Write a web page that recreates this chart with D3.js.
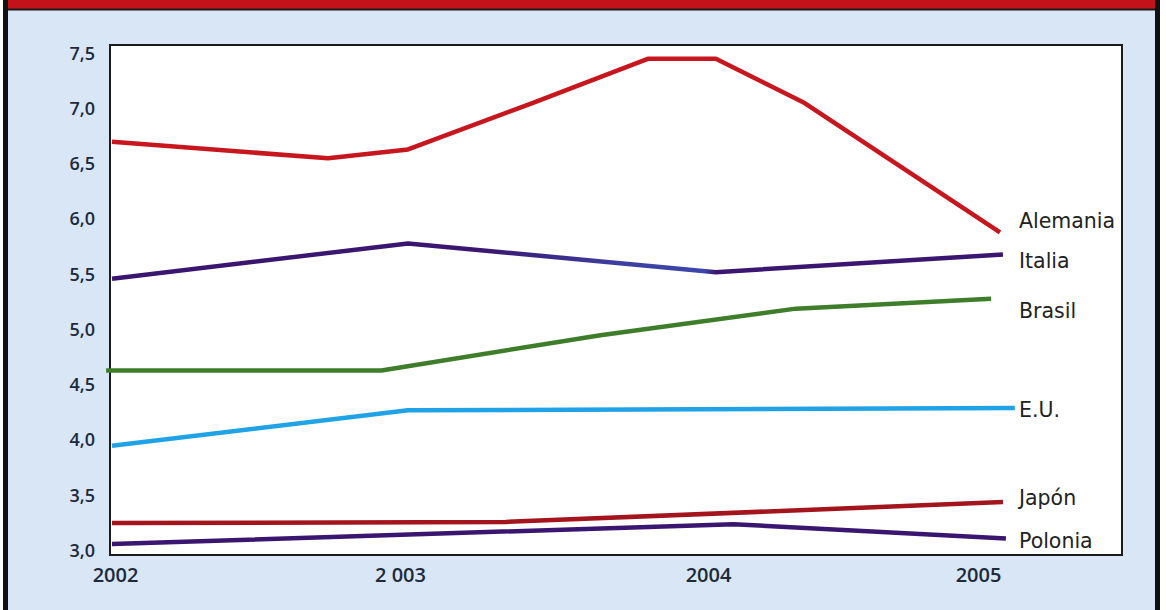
<!DOCTYPE html>
<html>
<head>
<meta charset="utf-8">
<script src="https://cdn.jsdelivr.net/npm/d3@7"></script>
<style>
  html, body { margin: 0; padding: 0; background: #ffffff; }
  svg { display: block; }
</style>
</head>
<body>
<svg id="chart" width="1166" height="610"></svg>
<script>
// ---- data ----
const years = [2002, 2003, 2004, 2005];
const yearLabels = ["2002", "2 003", "2004", "2005"];
const yTicks = [3.0, 3.5, 4.0, 4.5, 5.0, 5.5, 6.0, 6.5, 7.0, 7.5];
const countries = ["Alemania", "Italia", "Brasil", "E.U.", "Japón", "Polonia"];

const alemania = [[2002.0, 6.70], [2002.73, 6.55], [2003.0, 6.63], [2003.42, 7.05], [2003.81, 7.45], [2004.04, 7.45], [2004.34, 7.05], [2005.0, 5.88]];
const italia   = [[2002.0, 5.46], [2003.0, 5.78], [2004.04, 5.52], [2005.01, 5.68]];
const brasil   = [[2001.98, 4.63], [2002.91, 4.63], [2003.65, 4.95], [2004.31, 5.19], [2004.97, 5.28]];
const eu       = [[2002.0, 3.95], [2003.0, 4.27], [2005.05, 4.29]];
const japon    = [[2002.0, 3.25], [2003.33, 3.26], [2005.01, 3.44]];
const polonia  = [[2002.0, 3.06], [2004.10, 3.24], [2005.02, 3.11]];

const seriesValues = [alemania, italia, brasil, eu, japon, polonia];

// ---- styles ----
const colors = ["#c7161d", "url(#italiaGrad)", "#3e7e2b", "#1fa2e6", "#a3141c", "#3b1670"];
const labelDy = [-12, 6, 12, 2, -4, 2];
const xLabelDx = [3, -8, 4, -22];

const svg = d3.select("#chart");
const W = 1166, H = 610;
const plot = { left: 110, right: 1122, top: 45, bottom: 555 };

// scales
const x = d3.scaleLinear().domain([2002, 2005]).range([112, 1000]);
const y = d3.scaleLinear().domain([3, 7.5]).range([550.7, 53.3]);

// gradient for the Italia line (bluish middle segment)
const defs = svg.append("defs");
const grad = defs.append("linearGradient").attr("id", "italiaGrad")
  .attr("gradientUnits", "userSpaceOnUse")
  .attr("x1", x(2002)).attr("x2", x(2005)).attr("y1", 0).attr("y2", 0);
const gx0 = x(2002), gw = x(2005) - x(2002);
[[x(2003.25), "#3b1670"], [x(2003.7), "#3c3f9e"], [x(2004.0), "#3d46ac"], [x(2004.04), "#3b1670"]]
  .forEach(([px, c]) => grad.append("stop").attr("offset", (px - gx0) / gw).attr("stop-color", c));

// background panel
svg.append("rect").attr("x", 0).attr("y", 0).attr("width", W).attr("height", H).attr("fill", "#ffffff");
svg.append("rect").attr("x", 5).attr("y", 0).attr("width", 1153).attr("height", H).attr("fill", "#d8e6f5");
// top red band
svg.append("rect").attr("x", 3).attr("y", 0).attr("width", 1157).attr("height", 9).attr("fill", "#c4121b");
svg.append("line").attr("x1", 3).attr("x2", 1160).attr("y1", 9.5).attr("y2", 9.5).attr("stroke", "#1a1a1a").attr("stroke-width", 2);
// side black borders
svg.append("rect").attr("x", 3).attr("y", 0).attr("width", 5).attr("height", H).attr("fill", "#111");
svg.append("rect").attr("x", 1155).attr("y", 0).attr("width", 5).attr("height", H).attr("fill", "#111");

// plot area
svg.append("rect")
  .attr("x", plot.left).attr("y", plot.top)
  .attr("width", plot.right - plot.left).attr("height", plot.bottom - plot.top)
  .attr("fill", "#ffffff").attr("stroke", "#1c1c1c").attr("stroke-width", 2);

const fmt = v => d3.format(".1f")(v).replace(".", ",");

// y axis
const yAxis = d3.axisLeft(y).tickValues(yTicks).tickFormat(fmt).tickSize(0).tickPadding(0);
const gy = svg.append("g").attr("transform", "translate(95,0)").call(yAxis);
gy.select(".domain").remove();
gy.selectAll("text")
  .attr("font-family", "'Open Sans', sans-serif")
  .attr("font-size", 18).attr("font-weight", 600).attr("fill", "#1d2a3c");

// x axis
const xAxis = d3.axisBottom(x).tickValues(years).tickFormat((d, i) => yearLabels[i]).tickSize(0).tickPadding(0);
const gxa = svg.append("g").attr("transform", "translate(0,570)").call(xAxis);
gxa.select(".domain").remove();
gxa.selectAll("text")
  .attr("dy", "0.6em")
  .attr("dx", (d, i) => xLabelDx[i])
  .attr("font-family", "'Open Sans', sans-serif")
  .attr("font-size", 20).attr("font-weight", 600).attr("fill", "#1d2a3c");

// lines
const line = d3.line().x(d => x(d[0])).y(d => y(d[1]));
svg.append("g").selectAll("path")
  .data(seriesValues)
  .join("path")
  .attr("d", line)
  .attr("fill", "none")
  .attr("stroke", (d, i) => colors[i])
  .attr("stroke-width", 4.5)
  .attr("stroke-linejoin", "round");

// labels
svg.append("g").selectAll("text")
  .data(countries)
  .join("text")
  .attr("x", 1019)
  .attr("y", (d, i) => y(seriesValues[i][seriesValues[i].length - 1][1]) + labelDy[i])
  .attr("dy", "0.36em")
  .attr("font-family", "'DejaVu Sans', sans-serif")
  .attr("font-size", 20.5).attr("fill", "#222")
  .text(d => d);
</script>
</body>
</html>
